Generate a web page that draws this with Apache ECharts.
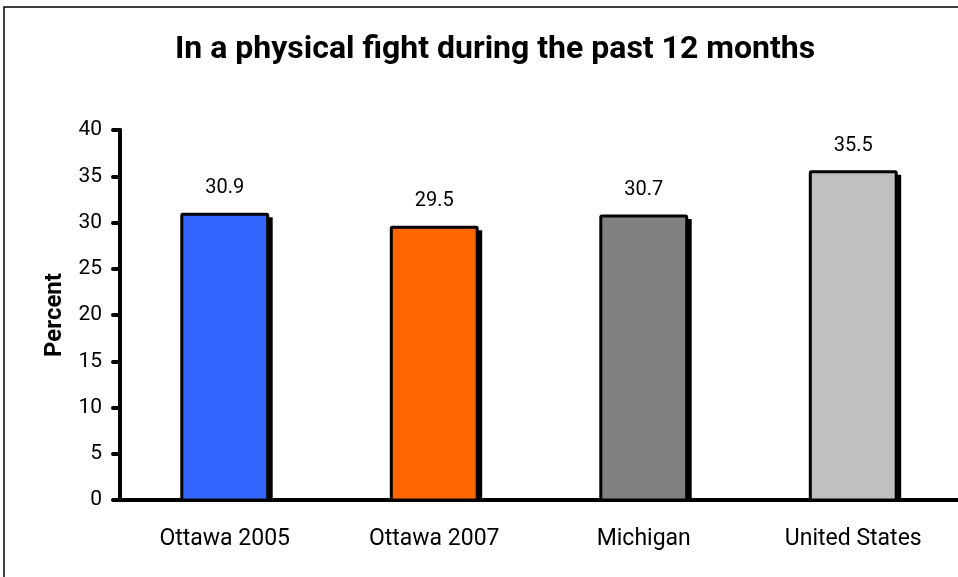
<!DOCTYPE html>
<html>
<head>
    <meta charset="utf-8">
    <title>Physical fight</title>
    <style>
        body { margin: 0; padding: 0; background: #fff; }
        #chart { width: 958px; height: 577px; }
    </style>
</head>
<body>
    <div id="chart"></div>
    <script src="https://cdn.jsdelivr.net/npm/echarts@6/dist/echarts.min.js"></script>
    <script>
        // data
        const categories = ['Ottawa 2005', 'Ottawa 2007', 'Michigan', 'United States'];
        const values = [30.9, 29.5, 30.7, 35.5];
        const barColors = ['#3366FF', '#FF6600', '#808080', '#C0C0C0'];

        const narrow = 'Roboto, "Liberation Sans Narrow", sans-serif';

        // bar with a hard black drop shadow, like the old office charts
        function renderBar(params, api) {
            const idx = api.value(0);
            const v = api.value(1);
            const top = api.coord([idx, v]);
            const base = api.coord([idx, 0]);
            const w = api.size([1, 0])[0] * 0.41;
            const x = top[0] - w / 2;
            const h = base[1] - top[1];
            return {
                type: 'group',
                children: [
                    {
                        type: 'rect',
                        shape: { x: x + 5, y: top[1] + 3, width: w, height: h - 3 },
                        style: { fill: '#000' }
                    },
                    {
                        type: 'rect',
                        shape: { x: x, y: top[1], width: w, height: h, r: 1 },
                        style: { fill: barColors[idx], stroke: '#000', lineWidth: 3 }
                    },
                    {
                        type: 'text',
                        x: top[0],
                        y: top[1] - 16,
                        style: {
                            text: String(v),
                            fill: '#000',
                            font: '20px ' + narrow,
                            align: 'center',
                            verticalAlign: 'bottom'
                        }
                    }
                ]
            };
        }

        const chart = echarts.init(document.getElementById('chart'));
        chart.setOption({
            animation: false,
            title: {
                text: 'In a physical fight during the past 12 months',
                left: 170,
                top: 29,
                textStyle: { fontFamily: narrow, fontSize: 32, fontWeight: 'bold', color: '#000' }
            },
            graphic: [{
                type: 'rect',
                shape: { x: 4, y: 7, width: 1100, height: 1000 },
                style: { fill: 'none', stroke: '#000', lineWidth: 1.5 },
                silent: true
            }],
            grid: { left: 120, right: 0, top: 130, bottom: 77 },
            xAxis: {
                type: 'category',
                data: categories,
                axisLine: { lineStyle: { color: '#000', width: 4 } },
                axisTick: { length: 8, lineStyle: { color: '#000', width: 4, cap: 'round' } },
                axisLabel: { color: '#000', fontFamily: narrow, fontSize: 23, margin: 28 }
            },
            yAxis: {
                type: 'value',
                min: 0,
                max: 40,
                interval: 5,
                name: 'Percent',
                nameLocation: 'middle',
                nameGap: 52,
                nameTextStyle: { fontFamily: narrow, fontSize: 24, fontWeight: 'bold', color: '#000' },
                splitLine: { show: false },
                axisLine: { show: true, lineStyle: { color: '#000', width: 4 } },
                axisTick: { show: true, length: 7, lineStyle: { color: '#000', width: 4, cap: 'round' } },
                axisLabel: { color: '#000', fontFamily: narrow, fontSize: 21, margin: 18 }
            },
            series: [{
                type: 'custom',
                renderItem: renderBar,
                encode: { x: 0, y: 1 },
                data: values.map((v, i) => [i, v])
            }]
        });
    </script>
</body>
</html>
